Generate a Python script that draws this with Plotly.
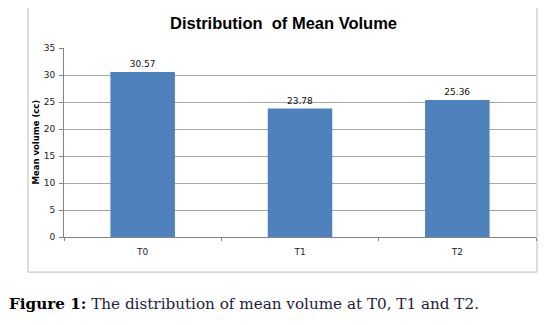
import plotly.graph_objects as go

categories = ["T0", "T1", "T2"]
mean_volume = [30.57, 23.78, 25.36]
value_labels = ["30.57", "23.78", "25.36"]
y_ticks = [0, 5, 10, 15, 20, 25, 30, 35]

# page body has an 8px margin; figure pixel = reference pixel - O
O = 8
W, H = 548 - 2 * O, 325 - 2 * O
L, R, T, B = 64 - O, 536 - O, 47.7 - O, 237.3 - O  # plot area in figure pixels


def px(xp):
    return (xp - O - L) / (R - L)


def py(yp):
    return (B - (yp - O)) / (B - T)


fig = go.Figure(
    go.Bar(
        x=categories,
        y=mean_volume,
        width=0.41,
        marker=dict(color="#4F81BD", line=dict(width=0)),
        text=value_labels,
        textposition="outside",
        textfont=dict(family="DejaVu Sans", size=9, color="#111111"),
        cliponaxis=False,
    )
)

fig.update_layout(
    width=W,
    height=H,
    margin=dict(l=L, r=W - R, t=T, b=H - B, pad=0),
    paper_bgcolor="white",
    plot_bgcolor="white",
    showlegend=False,
    xaxis=dict(
        type="category",
        showline=True,
        linecolor="#868686",
        linewidth=1,
        ticks="outside",
        tickson="boundaries",
        ticklen=3,
        tickcolor="#868686",
        showgrid=False,
        ticklabelstandoff=6,
        tickfont=dict(family="DejaVu Sans", size=9, color="#222222"),
    ),
    yaxis=dict(
        range=[0, 35],
        tickvals=y_ticks,
        showline=True,
        linecolor="#868686",
        linewidth=1,
        ticks="outside",
        ticklen=4,
        tickcolor="#868686",
        showgrid=True,
        gridcolor="#a6a6a6",
        gridwidth=1,
        zeroline=False,
        ticklabelstandoff=2,
        tickfont=dict(family="DejaVu Sans", size=9, color="#222222"),
    ),
    shapes=[
        dict(
            type="rect", xref="paper", yref="paper",
            x0=px(28), x1=px(537), y0=py(272.5), y1=py(3),
            line=dict(color="#bcbcbc", width=1), fillcolor="rgba(0,0,0,0)",
            layer="below",
        )
    ],
    annotations=[
        dict(
            text="<b>Distribution  of Mean Volume</b>",
            xref="paper", yref="paper", x=px(283), y=py(23),
            xanchor="center", yanchor="middle", showarrow=False,
            font=dict(family="Liberation Sans", size=16.5, color="#000000"),
        ),
        dict(
            text="<b>Mean volume (cc)</b>",
            xref="paper", yref="paper", x=px(36.5), y=py(142),
            xanchor="center", yanchor="middle", textangle=-90, showarrow=False,
            font=dict(family="DejaVu Sans", size=8.5, color="#000000"),
        ),
        dict(
            text="<b><span style='color:#000000'>Figure 1:</span></b> The distribution of mean volume at T0, T1 and T2.",
            xref="paper", yref="paper", x=px(7), y=py(305),
            xanchor="left", yanchor="middle", showarrow=False,
            font=dict(family="DejaVu Serif", size=15.2, color="#22223a"),
        ),
    ],
)

fig.write_html("out.html")
